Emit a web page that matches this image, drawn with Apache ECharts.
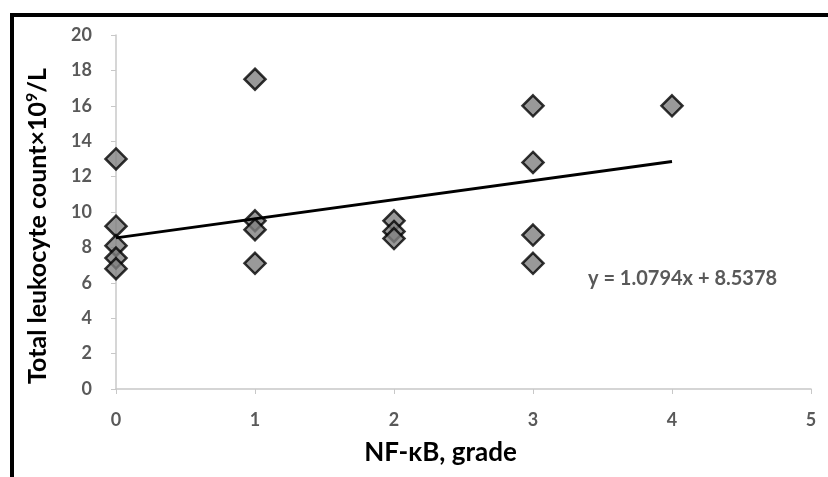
<!DOCTYPE html>
<html>
<head>
<meta charset="utf-8">
<script src="https://cdn.jsdelivr.net/npm/echarts@6/dist/echarts.min.js"></script>
<style>
  html, body { margin: 0; padding: 0; background: #fff; }
  #chart { width: 828px; height: 477px; }
</style>
</head>
<body>
<div id="chart"></div>
<script>
// NF-kB grade vs total leukocyte count
const gradeX = [0, 0, 0, 0, 0, 1, 1, 1, 1, 2, 2, 2, 3, 3, 3, 3, 4];
const leukocyteY = [13, 9.2, 8.1, 7.4, 6.8, 17.5, 9.5, 9.0, 7.1, 9.5, 8.9, 8.5, 16.0, 12.8, 8.7, 7.1, 16.0];
const xTicks = [0, 1, 2, 3, 4, 5];
const yTicks = [0, 2, 4, 6, 8, 10, 12, 14, 16, 18, 20];

// linear trendline from the chart
const trendSlope = 1.0794;
const trendIntercept = 8.5378;
const trendRange = [0, 4];

const chart = echarts.init(document.getElementById('chart'));

const points = gradeX.map((x, i) => [x, leukocyteY[i]]);
const trend = trendRange.map(x => [x, trendSlope * x + trendIntercept]);

const labelFont = 'Lato, sans-serif';

const option = {
  backgroundColor: '#fff',
  animation: false,
  grid: { left: 116, right: 17, top: 35, bottom: 88 },
  graphic: [{
    type: 'rect',
    shape: { x: 12, y: 15, width: 900, height: 600 },
    style: { fill: 'none', stroke: '#000', lineWidth: 4 },
    z: 100
  }, {
    type: 'text',
    left: 588,
    top: 269,
    style: {
      text: 'y = 1.0794x + 8.5378',
      fill: '#595959',
      font: 'bold 20px ' + labelFont
    }
  }],
  xAxis: {
    type: 'value',
    min: xTicks[0],
    max: xTicks[xTicks.length - 1],
    interval: 1,
    name: 'NF-κB, grade',
    nameLocation: 'middle',
    nameGap: 51,
    nameTextStyle: { color: '#000', fontWeight: 'bold', fontSize: 26, fontFamily: labelFont, padding: [0, 46, 0, 0] },
    splitLine: { show: false },
    axisLine: { lineStyle: { color: '#c8c8c8', width: 1.5 } },
    axisTick: { show: true, length: 5, lineStyle: { color: '#c8c8c8' } },
    axisLabel: { color: '#595959', fontWeight: 'bold', fontSize: 18, fontFamily: labelFont, margin: 22 }
  },
  yAxis: {
    type: 'value',
    min: yTicks[0],
    max: yTicks[yTicks.length - 1],
    interval: 2,
    name: 'Total leukocyte count×10{sup|9}/L',
    nameLocation: 'middle',
    nameGap: 64,
    nameTextStyle: {
      color: '#000', fontWeight: 'bold', fontSize: 25, fontFamily: labelFont,
      padding: [0, 28, 0, 0],
      rich: { sup: { color: '#000', fontWeight: 'bold', fontSize: 16, fontFamily: labelFont, verticalAlign: 'top', padding: [0, 0, 12, 0] } }
    },
    splitLine: { show: false },
    axisLine: { show: true, lineStyle: { color: '#c8c8c8', width: 1.5 } },
    axisTick: { show: true, length: 5, lineStyle: { color: '#c8c8c8' } },
    axisLabel: { color: '#595959', fontWeight: 'bold', fontSize: 18, fontFamily: labelFont, margin: 24 }
  },
  series: [{
    type: 'line',
    data: trend,
    symbol: 'none',
    lineStyle: { color: '#000', width: 3 },
    z: 3
  }, {
    type: 'scatter',
    data: points,
    symbol: 'diamond',
    symbolSize: [21, 21],
    itemStyle: { color: '#808080', borderColor: '#000', borderWidth: 2.5 },
    z: 2
  }]
};

chart.setOption(option);
</script>
</body>
</html>
